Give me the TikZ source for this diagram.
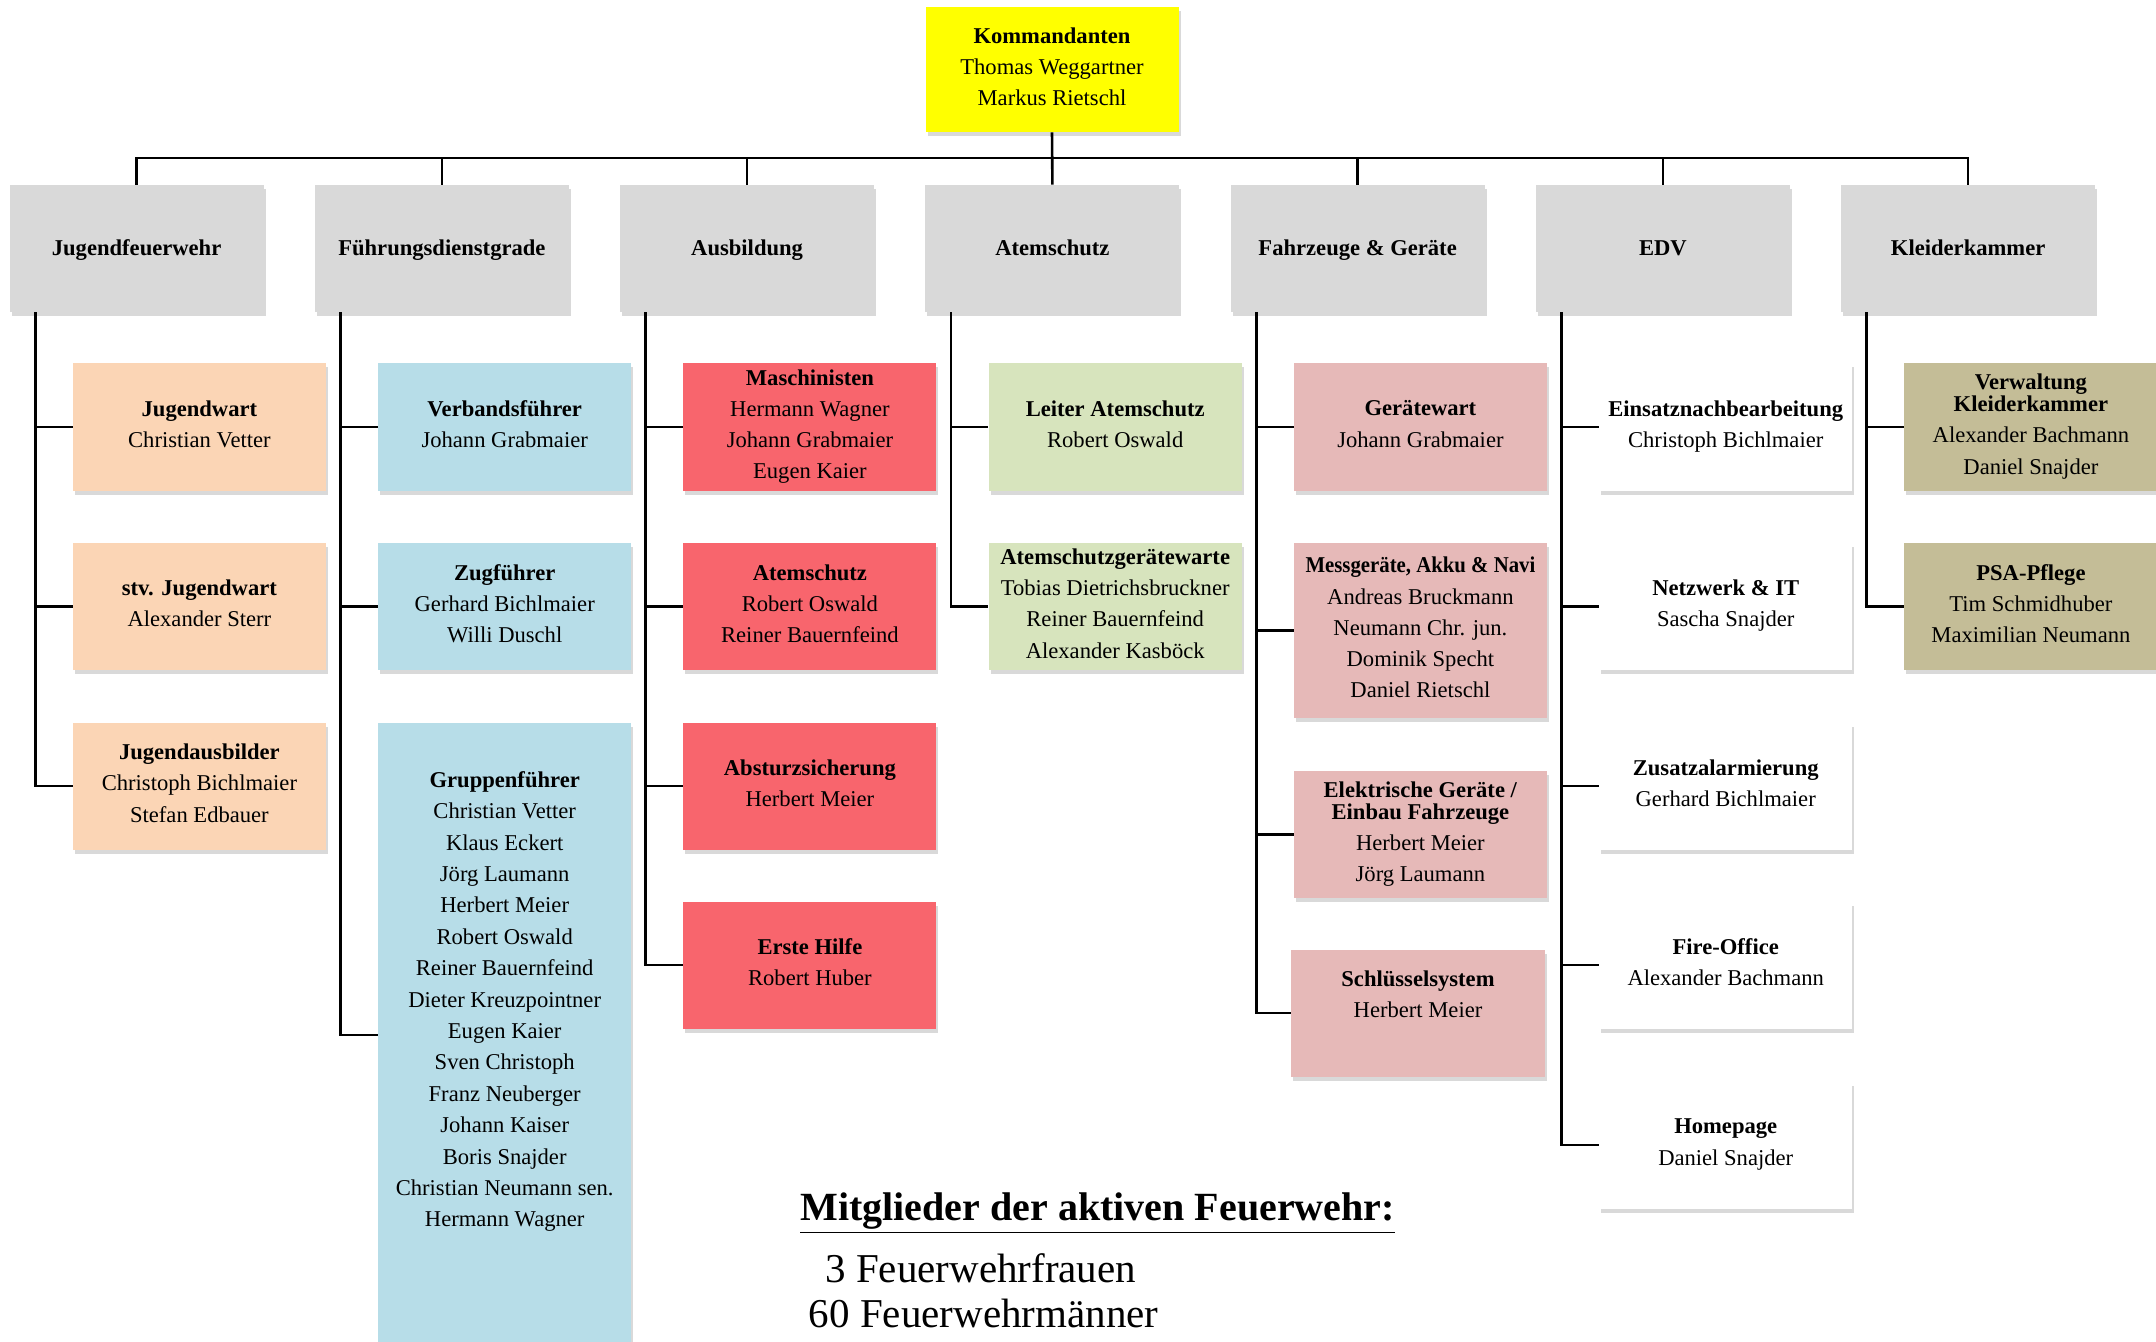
\documentclass[tikz,border=0pt]{standalone}
\usepackage{fontspec}
\setmainfont{Liberation Serif}
\usepackage{graphicx}
\usetikzlibrary{shadows}
\definecolor{cyellow}{HTML}{FFFF00}
\definecolor{cgray}{HTML}{D9D9D9}
\definecolor{cpeach}{HTML}{FBD5B5}
\definecolor{cblue}{HTML}{B7DDE8}
\definecolor{cred}{HTML}{F8656D}
\definecolor{cgreen}{HTML}{D7E4BD}
\definecolor{cpink}{HTML}{E6B9B8}
\definecolor{colive}{HTML}{C4BD97}
\newcommand\mystrutx{\rule[-3pt]{0pt}{13.5pt}}
\begin{document}
\begin{tikzpicture}[x=0.5pt,y=-0.5pt,
  box/.style={draw=none, inner sep=0pt, align=center, minimum width=126.5pt, minimum height=63.5pt,
    font=\fontsize{11.3}{15.6}\selectfont,
    execute at begin node=\mystrutx, execute at end node=\mystrutx,
    drop shadow={shadow xshift=1pt, shadow yshift=-2pt, opacity=0.3}},
  gbox/.style={box, fill=cgray, minimum width=127pt},
  pbox/.style={box, fill=cpeach},
  bbox/.style={box, fill=cblue},
  rbox/.style={box, fill=cred},
  grbox/.style={box, fill=cgreen},
  pkbox/.style={box, fill=cpink},
  wbox/.style={box, fill=white},
  obox/.style={box, fill=colive},
  conn/.style={line width=1.3pt, black},
  plain/.style={inner sep=0pt, align=center, font=\fontsize{11.3}{15.7}\selectfont}]
\useasboundingbox (0,0) rectangle (2156,1342);

% top
\node[box, fill=cyellow, minimum height=62.5pt] (top) at (1052,69.5)
  {\textbf{Kommandanten}\\Thomas Weggartner\\Markus Rietschl};

% level 1
\node[gbox] (g1) at (136.6,248.5) {\textbf{Jugendfeuerwehr}};
\node[gbox] (g2) at (441.9,248.5) {\textbf{Führungsdienstgrade}};
\node[gbox] (g3) at (747.1,248.5) {\textbf{Ausbildung}};
\node[gbox] (g4) at (1052.4,248.5) {\textbf{Atemschutz}};
\node[gbox] (g5) at (1357.6,248.5) {\textbf{Fahrzeuge \& Geräte}};
\node[gbox] (g6) at (1662.9,248.5) {\textbf{EDV}};
\node[gbox] (g7) at (1968.1,248.5) {\textbf{Kleiderkammer}};

% Jugendfeuerwehr
\node[pbox] (j1) at (199.4,427) {\textbf{Jugendwart}\\Christian Vetter};
\node[pbox] (j2) at (199.4,606.5) {\textbf{stv. Jugendwart}\\Alexander Sterr};
\node[pbox] (j3) at (199.4,786) {\textbf{Jugendausbilder}\\Christoph Bichlmaier\\Stefan Edbauer};

% Fuehrungsdienstgrade
\node[bbox] (f1) at (504.7,427) {\textbf{Verbandsführer}\\Johann Grabmaier};
\node[bbox] (f2) at (504.7,606.5) {\textbf{Zugführer}\\Gerhard Bichlmaier\\Willi Duschl};
\node[bbox, minimum height=312pt, execute at begin node={}, execute at end node={}] (f3) at (504.7,1035) {};
\node[plain, anchor=north] (f3t) at (504.7,771)
  {\textbf{Gruppenführer}\\Christian Vetter\\Klaus Eckert\\Jörg Laumann\\Herbert Meier\\Robert Oswald\\Reiner Bauernfeind\\Dieter Kreuzpointner\\Eugen Kaier\\Sven Christoph\\Franz Neuberger\\Johann Kaiser\\Boris Snajder\\Christian Neumann sen.\\Hermann Wagner};

% Ausbildung
\node[rbox] (a1) at (809.9,427) {\textbf{Maschinisten}\\Hermann Wagner\\Johann Grabmaier\\Eugen Kaier};
\node[rbox] (a2) at (809.9,606.5) {\textbf{Atemschutz}\\Robert Oswald\\Reiner Bauernfeind};
\node[rbox] (a3) at (809.9,786) {\textbf{Absturzsicherung}\\Herbert Meier};
\node[rbox] (a4) at (809.9,965) {\textbf{Erste Hilfe}\\Robert Huber};

% Atemschutz
\node[grbox] (s1) at (1115.2,427) {\textbf{Leiter Atemschutz}\\Robert Oswald};
\node[grbox] (s2) at (1115.2,606.5) {\textbf{Atemschutzgerätewarte}\\Tobias Dietrichsbruckner\\Reiner Bauernfeind\\Alexander Kasböck};

% Fahrzeuge & Geraete
\node[pkbox] (v1) at (1420.4,427) {\textbf{Gerätewart}\\Johann Grabmaier};
\node[pkbox, minimum height=87.5pt] (v2) at (1420.4,630.5)
  {\scalebox{0.92}[1]{\textbf{Messgeräte, Akku \& Navi}}\\Andreas Bruckmann\\Neumann Chr. jun.\\Dominik Specht\\Daniel Rietschl};
\node[pkbox] (v3) at (1420.4,834.5) {\textbf{Elektrische Geräte /}\\[-4.5pt]\textbf{Einbau Fahrzeuge}\\Herbert Meier\\Jörg Laumann};
\node[pkbox, minimum width=127pt] (v4) at (1418,1013) {\textbf{Schlüsselsystem}\\Herbert Meier\\\mbox{}};

% EDV
\node[wbox] (e1) at (1725.7,427) {\textbf{Einsatznachbearbeitung}\\Christoph Bichlmaier};
\node[wbox] (e2) at (1725.7,606.5) {\textbf{Netzwerk \& IT}\\Sascha Snajder};
\node[wbox] (e3) at (1725.7,786) {\textbf{Zusatzalarmierung}\\Gerhard Bichlmaier};
\node[wbox] (e4) at (1725.7,965) {\textbf{Fire-Office}\\Alexander Bachmann};
\node[wbox] (e5) at (1725.7,1145) {\textbf{Homepage}\\Daniel Snajder};

% Kleiderkammer
\node[obox] (k1) at (2030.9,427) {\textbf{Verwaltung}\\[-4.5pt]\textbf{Kleiderkammer}\\Alexander Bachmann\\Daniel Snajder};
\node[obox] (k2) at (2030.9,606.5) {\textbf{PSA-Pflege}\\Tim Schmidhuber\\Maximilian Neumann};

% connectors
\coordinate (busc) at (1052.4,158);
\draw[conn] (top.south) -- (g4.north);
\draw[conn] (g1.north) |- (busc) -| (g7.north);
\foreach \n in {g2,g3,g5,g6} \draw[conn] (\n.north) -- (\n.north |- busc);

\foreach \g/\c in {g1/j1,g1/j2,g1/j3,g2/f1,g2/f2,g2/f3,g3/a1,g3/a2,g3/a3,g3/a4,g4/s1,g4/s2,
  g5/v1,g5/v2,g5/v3,g5/v4,g6/e1,g6/e2,g6/e3,g6/e4,g6/e5,g7/k1,g7/k2}
  \draw[conn] (\g.south west) ++(26,0) |- (\c.west);

% members
\node[inner sep=0pt, anchor=west, font=\fontsize{20}{24}\selectfont\bfseries] (mt) at (800,1213)
  {\underline{Mitglieder der aktiven Feuerwehr:}};
\node[inner sep=0pt, anchor=west, font=\fontsize{20.5}{24}\selectfont] (m1) at (825,1268) {3 Feuerwehrfrauen};
\node[inner sep=0pt, anchor=west, font=\fontsize{20.5}{24}\selectfont] (m2) at (808.5,1313) {60 Feuerwehrmänner};
\end{tikzpicture}
\end{document}
